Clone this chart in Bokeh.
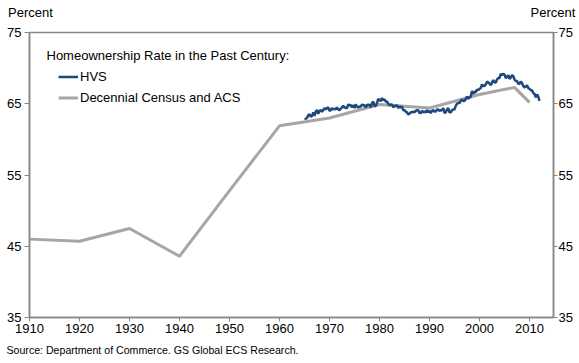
from bokeh.plotting import figure
from bokeh.models import (Range1d, LinearAxis, FixedTicker, Label, Legend, LegendItem, Title)
from bokeh.embed import file_html
from bokeh.resources import INLINE

# ---- Data ----
census_years = [1910, 1920, 1930, 1940, 1950, 1960, 1970, 1980, 1990, 2000, 2007, 2010]
census_rate = [46.0, 45.7, 47.5, 43.6, 52.8, 61.9, 63.0, 64.9, 64.4, 66.3, 67.3, 65.2]

hvs_quarterly = {
    1965: [62.9, 62.9, 63.0, 63.4],
    1966: [63.5, 63.2, 63.3, 63.8],
    1967: [63.3, 63.9, 64.1, 63.6],
    1968: [64.0, 64.1, 63.9, 64.1],
    1969: [64.4, 64.2, 64.4, 64.5],
    1970: [64.0, 64.1, 64.4, 64.2],
    1971: [64.3, 64.2, 64.5, 64.2],
    1972: [64.1, 64.3, 64.5, 64.7],
    1973: [64.5, 64.4, 64.4, 64.9],
    1974: [64.8, 64.8, 64.5, 64.8],
    1975: [64.4, 64.9, 64.6, 64.5],
    1976: [64.6, 64.6, 64.9, 64.8],
    1977: [64.8, 64.5, 64.8, 64.9],
    1978: [64.8, 64.5, 65.1, 65.3],
    1979: [64.7, 64.7, 65.1, 65.7],
    1980: [65.5, 65.4, 65.8, 65.5],
    1981: [65.6, 65.3, 65.3, 65.0],
    1982: [64.8, 64.9, 64.9, 64.5],
    1983: [64.7, 64.7, 64.8, 64.4],
    1984: [64.6, 64.5, 64.6, 64.1],
    1985: [64.1, 63.9, 63.8, 63.5],
    1986: [63.6, 63.8, 63.8, 63.9],
    1987: [63.8, 64.0, 64.1, 64.1],
    1988: [63.7, 63.7, 64.0, 63.8],
    1989: [63.9, 63.8, 64.1, 63.8],
    1990: [64.0, 63.7, 64.0, 64.1],
    1991: [63.9, 63.9, 64.2, 64.2],
    1992: [64.0, 64.1, 64.1, 64.4],
    1993: [63.7, 63.8, 64.2, 64.4],
    1994: [63.8, 63.8, 64.1, 64.2],
    1995: [64.2, 64.7, 65.0, 65.1],
    1996: [65.1, 65.4, 65.6, 65.4],
    1997: [65.4, 65.7, 66.0, 65.7],
    1998: [65.9, 66.0, 66.8, 66.4],
    1999: [66.7, 66.6, 67.0, 66.9],
    2000: [67.1, 67.2, 67.7, 67.5],
    2001: [67.5, 67.7, 68.1, 68.0],
    2002: [67.8, 67.6, 68.0, 68.3],
    2003: [68.0, 68.0, 68.4, 68.6],
    2004: [68.6, 69.2, 69.0, 69.2],
    2005: [69.1, 68.6, 68.8, 69.0],
    2006: [68.5, 68.7, 69.0, 68.9],
    2007: [68.4, 68.2, 68.2, 67.8],
    2008: [67.8, 68.1, 67.9, 67.5],
    2009: [67.3, 67.4, 67.6, 67.2],
    2010: [67.1, 66.9, 66.9, 66.5],
    2011: [66.4, 65.9, 66.3, 66.0],
    2012: [65.4],
}

x_ticks = [1910, 1920, 1930, 1940, 1950, 1960, 1970, 1980, 1990, 2000, 2010]
y_ticks = [35, 45, 55, 65, 75]
unit_label = "Percent"
source_text = "Source: Department of Commerce. GS Global ECS Research."
legend_title = "Homeownership Rate in the Past Century:"

hvs_dates = []
hvs_rate = []
for yr, vals in hvs_quarterly.items():
    for q, v in enumerate(vals):
        hvs_dates.append(yr + q * 0.25)
        hvs_rate.append(v)

# ---- Style ----
FONT = "Liberation Sans"
AXIS_COLOR = "#868686"
BLUE = "#1F497D"
GRAY = "#A6A6A6"

p = figure(width=579, height=363, output_backend="svg", toolbar_location=None,
           x_range=Range1d(1910, 2014.8), y_range=Range1d(35, 75),
           min_border_left=29, min_border_top=32, min_border_bottom=46,
           min_border_right=26)
p.background_fill_color = "white"
p.border_fill_color = "white"
p.outline_line_color = AXIS_COLOR
p.outline_line_width = 1.5
p.xgrid.visible = False
p.ygrid.visible = False

# Axes
for ax in [p.xaxis[0], p.yaxis[0]]:
    ax.axis_line_color = AXIS_COLOR
    ax.axis_line_width = 1.5
    ax.major_tick_line_color = AXIS_COLOR
    ax.minor_tick_line_color = None
    ax.major_tick_in = 0
    ax.major_label_text_font = FONT
    ax.major_label_text_font_size = "13px"
    ax.major_label_text_color = "black"

p.xaxis[0].ticker = FixedTicker(ticks=x_ticks)
p.xaxis[0].major_tick_out = 4
p.xaxis[0].major_label_standoff = 2
p.yaxis[0].ticker = FixedTicker(ticks=y_ticks)
p.yaxis[0].major_tick_out = 5
p.yaxis[0].major_label_standoff = 3

right = LinearAxis(ticker=FixedTicker(ticks=y_ticks))
right.axis_line_color = AXIS_COLOR
right.axis_line_width = 1.5
right.major_tick_line_color = AXIS_COLOR
right.minor_tick_line_color = None
right.major_tick_in = 0
right.major_tick_out = 4
right.major_label_standoff = 1
right.major_label_text_font = FONT
right.major_label_text_font_size = "13px"
right.major_label_text_color = "black"
p.add_layout(right, "right")

# "Percent" unit labels above both value axes (a label-only axis on top)
unit_axis = LinearAxis(ticker=FixedTicker(ticks=[1910.2, 2014.7]),
                       major_label_overrides={1910.2: unit_label, 2014.7: unit_label})
unit_axis.axis_line_color = None
unit_axis.major_tick_line_color = None
unit_axis.minor_tick_line_color = None
unit_axis.major_tick_in = 0
unit_axis.major_tick_out = 0
unit_axis.major_label_standoff = 13
unit_axis.major_label_text_font = FONT
unit_axis.major_label_text_font_size = "13px"
unit_axis.major_label_text_color = "black"
p.add_layout(unit_axis, "above")

# Source note below the chart
p.add_layout(Title(text=source_text, align="left", offset=-23, standoff=12,
                   text_font=FONT, text_font_size="10.6px", text_font_style="normal",
                   text_color="black"), "below")

# Lines
g = p.line(census_years, census_rate, line_color=GRAY, line_width=3)
b = p.line(hvs_dates, hvs_rate, line_color=BLUE, line_width=2.5)

legend = Legend(items=[LegendItem(label="HVS", renderers=[b]),
                       LegendItem(label="Decennial Census and ACS", renderers=[g])],
                location=(29, 209), padding=0, margin=0, spacing=0,
                glyph_width=20, glyph_height=21, label_height=21,
                label_standoff=2, label_text_font=FONT,
                label_text_font_size="13px", label_text_color="black",
                border_line_color=None, background_fill_alpha=0)
p.add_layout(legend)

p.add_layout(Label(x=1910, y=75, x_offset=17, y_offset=-23, text=legend_title,
                   text_font=FONT, text_font_size="13px", text_color="black",
                   text_baseline="middle", text_align="left"))

open("out.html", "w").write(file_html(p, INLINE))
